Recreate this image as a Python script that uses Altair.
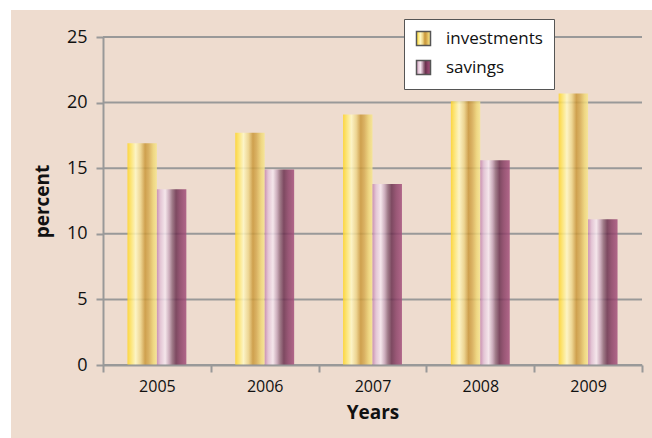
import altair as alt
import pandas as pd

# Chart values
years = ["2005", "2006", "2007", "2008", "2009"]
investments = [16.9, 17.7, 19.1, 20.1, 20.7]
savings = [13.4, 14.9, 13.8, 15.6, 11.1]
series_names = ["investments", "savings"]
y_ticks = [0, 5, 10, 15, 20, 25]

rows = []
for i, yr in enumerate(years):
    rows.append({"year": yr, "series": "investments", "value": investments[i]})
    rows.append({"year": yr, "series": "savings", "value": savings[i]})
df = pd.DataFrame(rows)
grid_df = pd.DataFrame({"value": y_ticks})

W, H = 539, 328
PAD = {"left": 103, "top": 37, "right": 10, "bottom": 73}

BG = "#EEDCCF"
GRID = "#999999"
FONT = "Open Sans"


def cylinder(stops):
    parts = ",".join(f"{{offset:{o},color:'{c}'}}" for o, c in stops)
    return alt.ExprRef(
        "{gradient:'linear',x1:0,y1:0,x2:1,y2:0,stops:[" + parts + "]}"
    )


gold = cylinder([
    (0.0, "#FFD428"), (0.12, "#FFE668"), (0.28, "#FFF8C4"),
    (0.45, "#EDD488"), (0.6, "#C99638"), (0.72, "#D6AA50"),
    (0.88, "#EFD676"), (1.0, "#F6E690"),
])
mauve = cylinder([
    (0.0, "#C586AE"), (0.12, "#E2C2D6"), (0.28, "#F6E8F0"),
    (0.42, "#C6A4B8"), (0.52, "#926A7C"), (0.65, "#6A304E"),
    (0.8, "#8A4066"), (1.0, "#A6527D"),
])

y_scale = alt.Scale(domain=[0, 25], nice=False, zero=True)
y_axis = alt.Axis(
    title="percent",
    values=y_ticks,
    grid=False,
    zindex=1,
    domainColor=GRID,
    domainWidth=2,
    tickColor=GRID,
    tickWidth=2,
    tickSize=7,
    labelFont=FONT,
    labelFontSize=18,
    labelColor="#111111",
    labelPadding=9,
    titleFont=FONT,
    titleFontSize=19,
    titleFontWeight="bold",
    titleColor="#111111",
    titlePadding=14,
)

# Beige panel behind everything, leaving a thin white margin top-left
panel = alt.Chart(alt.Data(values=[{}])).mark_rect(color=BG).encode(
    x=alt.value(-PAD["left"] + 11),
    x2=alt.value(W + PAD["right"] + 5),
    y=alt.value(-PAD["top"] + 10),
    y2=alt.value(H + PAD["bottom"] + 5),
)

# Horizontal gridlines at the y tick values
grid = alt.Chart(grid_df).mark_rule(color=GRID, strokeWidth=2).encode(
    y=alt.Y("value:Q", scale=y_scale, axis=y_axis),
)

bars = alt.Chart(df).mark_bar(fillOpacity=0.85).encode(
    x=alt.X(
        "year:N",
        sort=years,
        scale=alt.Scale(paddingInner=0, paddingOuter=0),
        axis=alt.Axis(
            title="Years",
            labelAngle=0,
            tickBand="extent",
            zindex=1,
            domainColor=GRID,
            domainWidth=2,
            tickColor=GRID,
            tickWidth=2,
            tickSize=7,
            labelFont=FONT,
            labelFontSize=16,
            labelColor="#111111",
            labelPadding=6,
            titleFont=FONT,
            titleFontSize=19,
            titleFontWeight="bold",
            titleColor="#111111",
            titlePadding=9,
        ),
    ),
    xOffset=alt.XOffset(
        "series:N",
        sort=series_names,
        scale=alt.Scale(paddingInner=0, paddingOuter=0.83),
    ),
    y=alt.Y("value:Q", scale=y_scale, axis=y_axis),
    fill=alt.Fill(
        "series:N",
        sort=series_names,
        scale=alt.Scale(domain=series_names, range=[gold, mauve]),
        legend=alt.Legend(
            title=None,
            orient="none",
            legendX=301,
            legendY=-18,
            direction="vertical",
            symbolType="square",
            symbolSize=196,
            symbolStrokeColor="#555555",
            symbolStrokeWidth=1.5,
            symbolOpacity=1,
            labelFont=FONT,
            labelFontSize=17,
            labelColor="#111111",
            labelOffset=14,
            rowPadding=8,
            padding=11,
            fillColor="white",
            strokeColor="#555555",
            zindex=2,
        ),
    ),
)

chart = (
    alt.layer(panel, grid, bars)
    .properties(
        width=W,
        height=H,
        background="white",
        padding=PAD,
        autosize=alt.AutoSizeParams(type="none"),
    )
    .configure_view(stroke=None)
)

chart.save("out.html", embed_options={"renderer": "svg", "actions": False})
